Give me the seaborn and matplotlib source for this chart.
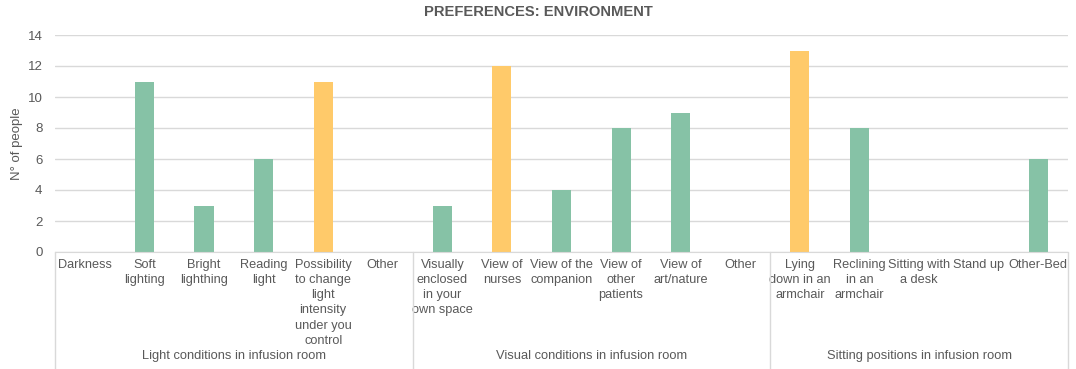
"""
Preferences: environment - bar chart of number of people per option,
grouped by room condition type.
"""

import matplotlib
matplotlib.use("Agg")
import matplotlib.pyplot as plt
import matplotlib.transforms as mtransforms
import pandas as pd
import seaborn as sns

# Data
categories = [
    "Darkness", "Soft\nlighting", "Bright\nlighthing", "Reading\nlight",
    "Possibility\nto change\nlight\nintensity\nunder you\ncontrol", "Other",
    "Visually\nenclosed\nin your\nown space", "View of\nnurses",
    "View of the\ncompanion", "View of\nother\npatients", "View of\nart/nature",
    "Other",
    "Lying\ndown in an\narmchair", "Reclining\nin an\narmchair",
    "Sitting with\na desk", "Stand up", "Other-Bed",
]
counts = [0, 11, 3, 6, 11, 0,
          3, 12, 4, 8, 9, 0,
          13, 8, 0, 0, 6]
groups = ["Light conditions in infusion room"] * 6 + \
         ["Visual conditions in infusion room"] * 6 + \
         ["Sitting positions in infusion room"] * 5
top_choice = [False, False, False, False, True, False,
              False, True, False, False, False, False,
              True, False, False, False, False]

GREEN = "#86C2A6"
YELLOW = "#FFCA6A"
TEXT = "#595959"
GRID = "#D9D9D9"

df = pd.DataFrame({
    "pos": range(len(categories)),
    "count": counts,
    "group": groups,
    "top": top_choice,
})

sns.set_style("white")
plt.rcParams["font.family"] = ["Liberation Sans", "DejaVu Sans"]

fig = plt.figure(figsize=(10.76, 3.69), dpi=100)
ax = fig.add_axes([55 / 1076, 1 - 252 / 369, (1068 - 55) / 1076, 217 / 369])

sns.barplot(data=df, x="pos", y="count", hue="top",
            palette={False: GREEN, True: YELLOW}, saturation=1,
            dodge=False, width=0.32, legend=False, linewidth=0, ax=ax)

ax.set_ylim(0, 14)
ax.set_yticks(range(0, 15, 2))
ax.set_xlim(-0.5, len(categories) - 0.5)
ax.yaxis.grid(True, color=GRID, linewidth=1)
ax.set_axisbelow(True)
for side in ["top", "right", "left"]:
    ax.spines[side].set_visible(False)
ax.spines["bottom"].set_color(GRID)

ax.set_xticks(range(len(categories)))
ax.set_xticklabels(categories, fontsize=9.2, color=TEXT, linespacing=1.35,
                   va="top", ha="center", multialignment="center")
ax.tick_params(axis="x", length=0, pad=5)
ax.tick_params(axis="y", length=0, pad=9, labelsize=9.5, labelcolor=TEXT)
ax.set_xlabel("")
ax.set_ylabel("N° of people", fontsize=9.5, color=TEXT, labelpad=3)

# group separators and group labels below the category labels
trans = mtransforms.blended_transform_factory(ax.transData, ax.transAxes)
group_names = list(dict.fromkeys(groups))
start = 0
edges = [-0.5]
for name in group_names:
    n = groups.count(name)
    center = start + (n - 1) / 2
    ax.text(center, -0.479, name, transform=trans, ha="center", va="center",
            fontsize=9.3, color=TEXT)
    start += n
    edges.append(start - 0.5)
for x in edges:
    ax.plot([x, x], [0, -0.54], transform=trans, color=GRID,
            linewidth=1, clip_on=False)

fig.text(538 / 1076, 1 - 12 / 369, "PREFERENCES: ENVIRONMENT", ha="center",
         va="center", fontsize=10.6, fontweight="bold", color=TEXT)

fig.savefig("out.png", dpi=100)
